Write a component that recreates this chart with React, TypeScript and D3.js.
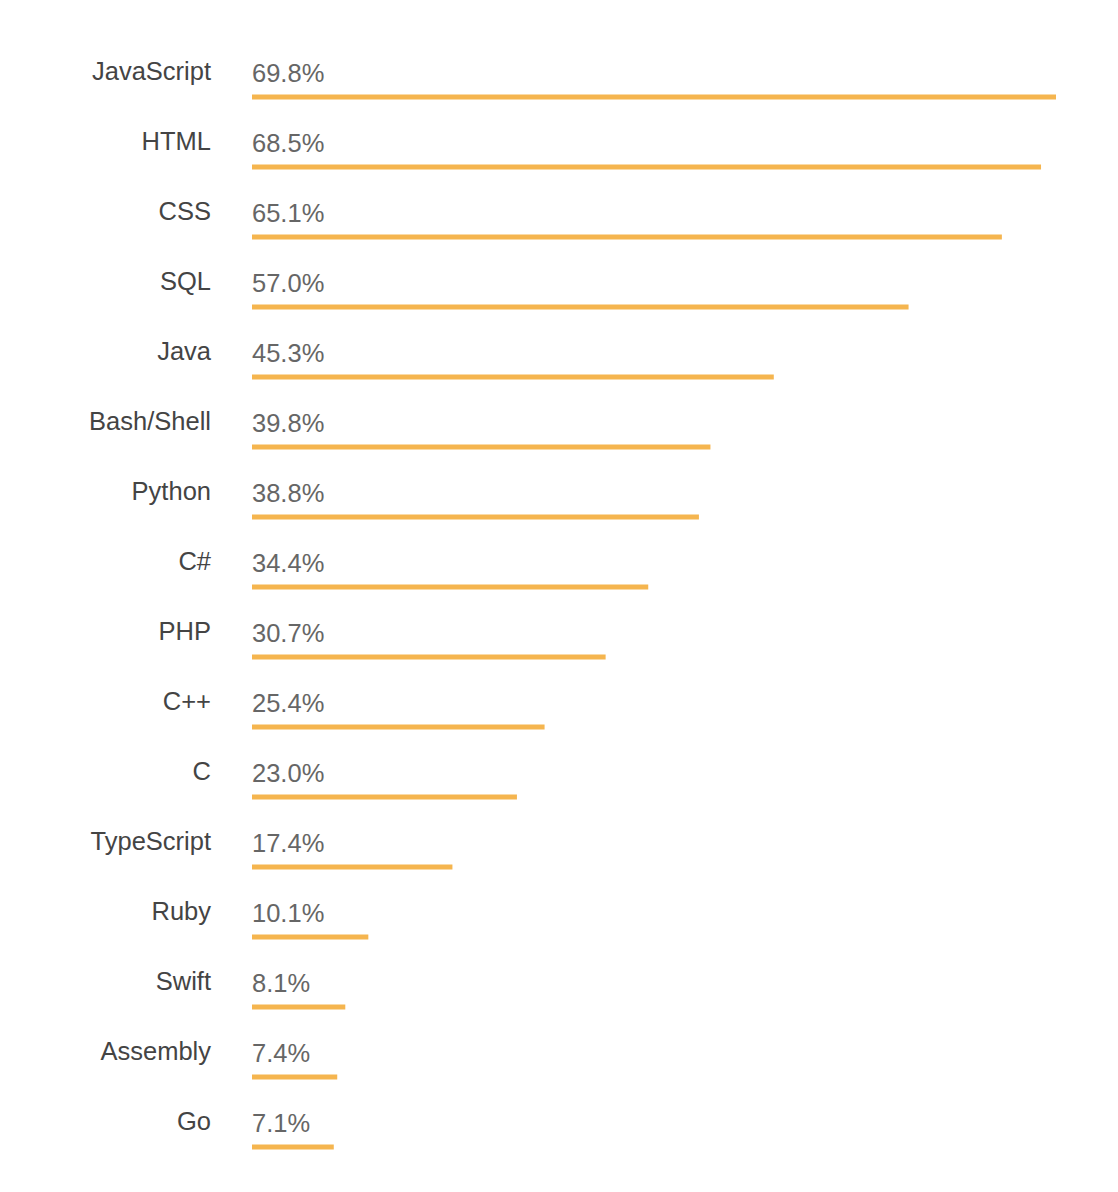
import React from "react";
import * as d3 from "d3";

const categories = [
  "JavaScript", "HTML", "CSS", "SQL", "Java", "Bash/Shell", "Python", "C#",
  "PHP", "C++", "C", "TypeScript", "Ruby", "Swift", "Assembly", "Go",
];
const values = [69.8, 68.5, 65.1, 57.0, 45.3, 39.8, 38.8, 34.4, 30.7, 25.4, 23.0, 17.4, 10.1, 8.1, 7.4, 7.1];

const W = 1118;
const H = 1192;

export default function App() {
  const y = d3.scaleBand<string>().domain(categories).range([32, 32 + 70 * categories.length]).padding(0);
  const x = d3.scaleLinear().domain([0, 69.8]).range([252, 1056]);
  const font = "'Liberation Sans', Arial, sans-serif";
  return (
    <svg width={W} height={H} style={{ position: "absolute", left: 0, top: 0, background: "#fff" }}>
      {categories.map((c, i) => {
        const y0 = y(c)!;
        return (
          <g key={c}>
            <text x={211} y={y0 + 48} textAnchor="end" fontFamily={font} fontSize={25.5} fill="#444">
              {c}
            </text>
            <text x={x(0)} y={y0 + 50} fontFamily={font} fontSize={25.5} fill="#666">
              {d3.format(".1f")(values[i]) + "%"}
            </text>
            <rect x={x(0)} y={y0 + 62.5} width={x(values[i]) - x(0)} height={5} fill="#f5b54f" />
          </g>
        );
      })}
    </svg>
  );
}
